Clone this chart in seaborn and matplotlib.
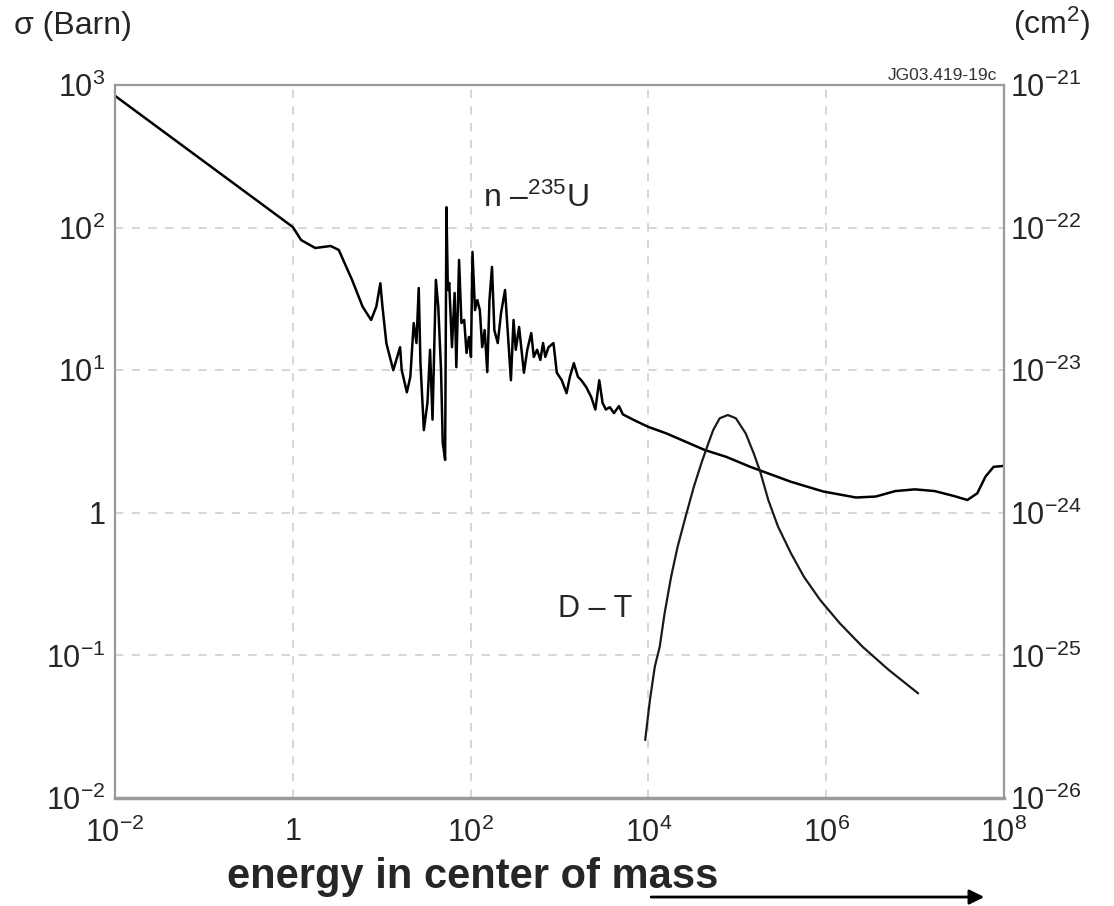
import numpy as np
import pandas as pd
import seaborn as sns
import matplotlib.pyplot as plt

# n - U235 cross section (energy, barn)
u_energy = [1.0e-2, 1.0, 1.24, 1.79, 2.66, 3.29, 4.64, 6.1, 7.6, 8.7, 9.66, 10.2,
            11.3, 13.5, 16.1, 16.8, 19.2, 21.0, 22.9, 24.6, 26.1, 27.3, 29.8, 32.7, 35.0, 37.3,
            40.7, 43.3, 46.5, 48.6, 51.7, 53.5, 55.5, 57.5, 61.7, 66.1, 69.1, 74.2, 78.8, 84.7,
            90.0, 95.7, 101, 105, 112, 119, 127, 135, 144, 154, 163, 174, 185, 202, 220, 244, 261,
            284, 304, 322, 351, 398, 434, 481, 514, 560, 609, 653, 692, 753, 855, 933, 1060, 1200,
            1310, 1450, 1610, 1760, 2000, 2270, 2530, 2800, 3050, 3320, 3680, 4100, 4660, 5160,
            6280, 6820, 1.0e4, 1.58e4, 4.34e4, 7.48e4, 1.40e5, 1.73e5, 4.01e5, 9.27e5, 2.16e6,
            3.60e6, 5.98e6, 9.95e6, 1.66e7, 2.75e7, 3.87e7, 5.00e7, 6.17e7, 7.62e7, 9.8e7, 1.0e8]
u_sigma = [840, 101, 81.8, 71.9, 74.3, 69.7, 43.0, 27.9, 22.5, 27.9, 40.7, 27.9,
           15.4, 10.0, 14.5, 10.0, 7.0, 9.0, 21.4, 15.5, 37.7, 11.2, 3.8, 5.9, 13.9, 4.5,
           43.0, 27.8, 10.0, 3.1, 2.35, 139, 36.5, 40.9, 14.5, 34.8, 10.5, 59.3, 21.4, 22.5,
           13.2, 17.1, 12.4, 67.5, 26.4, 31.0, 26.4, 14.5, 19.1, 9.7, 31.0, 53.0, 19.1, 15.5,
           25.2, 36.5, 19.1, 8.5, 22.5, 13.9, 20.1, 9.6, 13.9, 18.2, 12.4, 13.9, 11.8, 15.5,
           12.4, 14.5, 15.5, 9.6, 8.5, 6.9, 9.0, 11.2, 9.0, 8.5, 7.6, 6.5, 5.3, 8.5, 5.9, 5.3,
           5.5, 5.0, 5.6, 4.9, 4.6, 4.48, 4.0, 3.61, 2.75, 2.47, 2.10, 2.0, 1.65, 1.41, 1.28,
           1.30, 1.42, 1.46, 1.42, 1.31, 1.23, 1.37, 1.79, 2.10, 2.13, 2.13]

# D - T fusion cross section
dt_energy = [9.2e3, 1.04e4, 1.18e4, 1.34e4, 1.52e4, 1.80e4, 2.13e4, 2.62e4, 3.24e4, 3.99e4,
             4.72e4, 5.36e4, 6.33e4, 7.82e4, 9.64e4, 1.24e5, 1.53e5, 1.81e5, 2.23e5, 2.87e5,
             4.01e5, 5.61e5, 8.53e5, 1.42e6, 2.56e6, 5.06e6, 1.08e7]
dt_sigma = [0.0255, 0.0487, 0.0834, 0.115, 0.197, 0.356, 0.578, 0.94, 1.52, 2.28,
            3.07, 3.81, 4.60, 4.85, 4.60, 3.61, 2.61, 1.94, 1.23, 0.80,
            0.52, 0.356, 0.245, 0.168, 0.115, 0.079, 0.0542]

x_ticks = [1e-2, 1, 1e2, 1e4, 1e6, 1e8]
x_labels = [r'$10^{-2}$', '1', r'$10^{2}$', r'$10^{4}$', r'$10^{6}$', r'$10^{8}$']
y_ticks = [1e-2, 1e-1, 1, 1e1, 1e2, 1e3]
y_labels = [r'$10^{-2}$', r'$10^{-1}$', '1', r'$10^{1}$', r'$10^{2}$', r'$10^{3}$']
y2_ticks = [1e-26, 1e-25, 1e-24, 1e-23, 1e-22, 1e-21]
y2_labels = [r'$10^{-26}$', r'$10^{-25}$', r'$10^{-24}$', r'$10^{-23}$', r'$10^{-22}$', r'$10^{-21}$']

sns.set_style('white')
plt.rcParams['font.family'] = ['Liberation Sans', 'DejaVu Sans']
plt.rcParams['mathtext.fontset'] = 'custom'
plt.rcParams['mathtext.rm'] = 'Liberation Sans'
plt.rcParams['mathtext.it'] = 'Liberation Sans:italic'
plt.rcParams['mathtext.bf'] = 'Liberation Sans:bold'

df_u = pd.DataFrame({'energy': u_energy, 'sigma': u_sigma})
df_dt = pd.DataFrame({'energy': dt_energy, 'sigma': dt_sigma})

fig = plt.figure(figsize=(11.14, 9.06), dpi=100)
ax = fig.add_axes([0.1032, 0.1192, 0.7981, 0.7870])

sns.lineplot(ax=ax, data=df_u, x='energy', y='sigma', color='black',
             linewidth=1.8, estimator=None, sort=False)
sns.lineplot(ax=ax, data=df_dt, x='energy', y='sigma', color='#1a1a1a',
             linewidth=1.6, estimator=None, sort=False)

ax.set_xscale('log')
ax.set_yscale('log')
ax.set_xlim(1e-2, 1e8)
ax.set_ylim(1e-2, 1e3)
ax.set_xticks(x_ticks)
ax.set_xticklabels(x_labels, fontsize=22)
ax.set_yticks(y_ticks)
ax.set_yticklabels(y_labels, fontsize=22)
ax.minorticks_off()
ax.tick_params(length=0, pad=7)
ax.tick_params(axis='x', pad=14)
ax.set_xlabel('')
ax.set_ylabel('')
ax.grid(True, color='#d0d0d0', linestyle=(0, (5, 5)), linewidth=1.2)
for s in ax.spines.values():
    s.set_color('#9a9a9a')
    s.set_linewidth(1.6)
ax.spines['bottom'].set_linewidth(2.5)

ax2 = ax.twinx()
ax2.set_yscale('log')
ax2.set_ylim(1e-26, 1e-21)
ax2.set_yticks(y2_ticks)
ax2.set_yticklabels(y2_labels, fontsize=22)
ax2.minorticks_off()
ax2.tick_params(length=0, pad=4)
for s in ax2.spines.values():
    s.set_visible(False)

# labels and annotations
fig.text(0.013, 0.9625, '\u03c3 (Barn)', fontsize=23, va='baseline', ha='left')
fig.text(0.909, 0.9625, '(cm$^{2}$)', fontsize=23, va='baseline', ha='left')
fig.text(0.895, 0.9117, 'JG03.419-19c', fontsize=12.5, va='baseline', ha='right', color='#333333')
ax.text(139, 139.5, 'n \u2013$^{235}$U', fontsize=23, va='baseline', ha='left')
ax.text(962, 0.186, 'D \u2013 T', fontsize=22, va='baseline', ha='left')

fig.text(0.424, 0.0199, 'energy in center of mass', fontsize=30, fontweight='bold',
         ha='center', va='baseline')
fig.add_artist(plt.Annotation('', xy=(0.886, 0.0099), xytext=(0.582, 0.0099),
                              xycoords='figure fraction', textcoords='figure fraction',
                              arrowprops=dict(arrowstyle='-|>', lw=2, color='black',
                                              mutation_scale=22)))

fig.savefig('out.png', dpi=100)
